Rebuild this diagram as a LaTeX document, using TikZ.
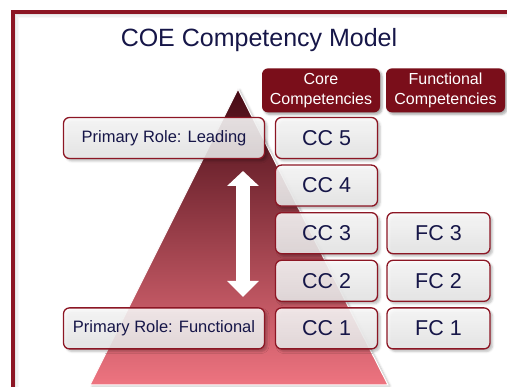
\documentclass[tikz,border=0pt]{standalone}
\usepackage{fontspec}
\setmainfont{Liberation Sans}
\usetikzlibrary{positioning,arrows.meta,shadows.blur}

\definecolor{coered}{RGB}{122,14,26}
\definecolor{coeframe}{RGB}{140,22,36}
\definecolor{coenavy}{RGB}{22,22,72}
\definecolor{coeboxtop}{RGB}{252,252,252}
\definecolor{coeboxbottom}{RGB}{234,234,234}
\definecolor{pyrtop}{RGB}{70,10,20}
\definecolor{pyrbottom}{RGB}{238,116,128}

\begin{document}
\begin{tikzpicture}[x=1pt, y=1pt, node distance=47.6pt]
    \tikzstyle{header} = [rectangle, rounded corners=6pt, minimum width=118pt, minimum height=44pt, text centered, align=center, fill=coered, text=white, font=\fontsize{16}{19.5}\selectfont, inner sep=2pt, blur shadow={shadow xshift=2pt, shadow yshift=-2pt, shadow opacity=35}]
    \tikzstyle{comp} = [rectangle, rounded corners=6pt, minimum width=102pt, minimum height=41pt, text centered, draw=coeframe, line width=1.3pt, top color=coeboxtop, bottom color=coeboxbottom, fill opacity=0.88, text opacity=1, text=coenavy, font=\fontsize{21.5}{24}\selectfont, blur shadow={shadow xshift=2.5pt, shadow yshift=-2.5pt, shadow opacity=30}]
    \tikzstyle{role} = [comp, minimum width=201pt, font=\fontsize{16.5}{19}\selectfont]

    \useasboundingbox (0,0) rectangle (507,-387);

    % Outer frame
    \foreach \d/\o in {2.5/0.22, 4/0.12, 5.5/0.06}
        \draw[gray, opacity=\o, line width=1.5pt] (13+\d,-12-\d) rectangle (530,-400);
    \draw[coeframe, line width=3.5pt] (13,-12) rectangle (530,-400);

    % Title
    \node[anchor=base, text=coenavy, font=\fontsize{25}{30}\selectfont] (title) at (259,-47) {COE Competency Model};

    % Pyramid
    \coordinate (apex) at (238,-89);
    \coordinate (base_left) at (90,-385);
    \coordinate (base_right) at (388,-385);
    \draw[white, line width=1pt, top color=pyrtop, bottom color=pyrbottom, blur shadow={shadow xshift=2pt, shadow yshift=-1pt, shadow opacity=25}] (apex) -- (base_right) -- (base_left) -- cycle;

    % Leading <-> functional
    \coordinate (arrow_top) at (243,-171);
    \coordinate (arrow_bottom) at (243,-297);
    \draw[white, line width=14pt, {Triangle[length=15pt, width=31pt]}-{Triangle[length=16pt, width=31pt]}] (arrow_top) -- (arrow_bottom);

    % Core competencies
    \node[comp] (cc5) at (326.5,-138) {CC 5};
    \node[comp, below of=cc5] (cc4) {CC 4};
    \node[comp, below of=cc4] (cc3) {CC 3};
    \node[comp, below of=cc3] (cc2) {CC 2};
    \node[comp, below of=cc2] (cc1) {CC 1};

    % Functional competencies
    \node[comp, right of=cc3, xshift=64.4pt, minimum width=103pt] (fc3) {FC 3};
    \node[comp, below of=fc3, minimum width=103pt] (fc2) {FC 2};
    \node[comp, below of=fc2, minimum width=103pt] (fc1) {FC 1};

    % Column headers
    \node[header, above of=cc5, xshift=-5.5pt] (core_head) {Core\\Competencies};
    \node[header, right of=core_head, xshift=76.9pt, minimum width=119pt] (func_head) {Functional\\Competencies};

    % Primary roles
    \node[role, left of=cc5, xshift=-114.9pt] (role_leading) {Primary Role: Leading};
    \node[role, left of=cc1, xshift=-114.9pt] (role_functional) {Primary Role: Functional};
\end{tikzpicture}
\end{document}
